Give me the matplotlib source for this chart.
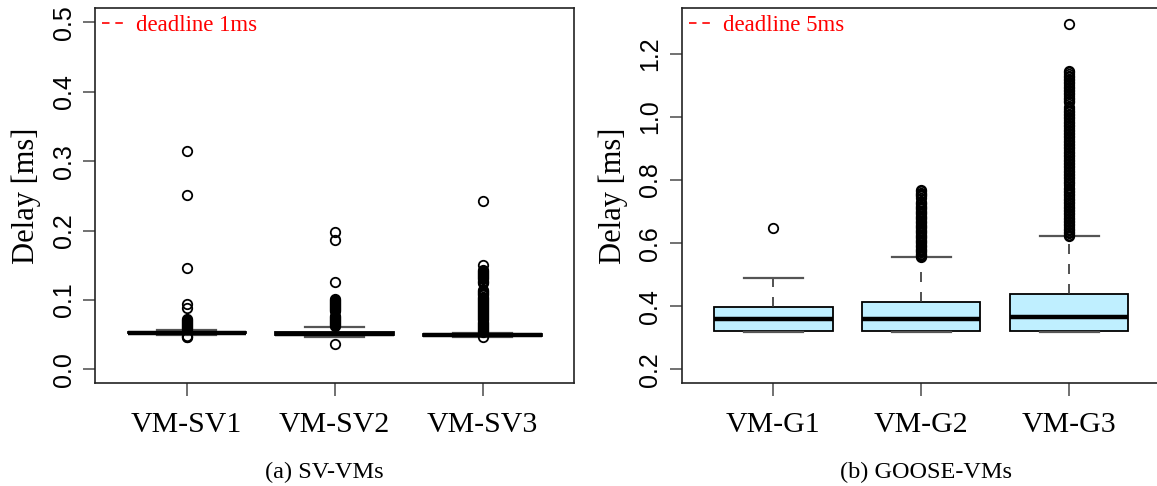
import matplotlib
matplotlib.use('Agg')
import matplotlib.pyplot as plt
from matplotlib.lines import Line2D

# SV-VMs (left panel), delay in ms
sv_labels = ['VM-SV1', 'VM-SV2', 'VM-SV3']
sv_q1 = [0.052, 0.049, 0.048]
sv_med = [0.053, 0.051, 0.049]
sv_q3 = [0.054, 0.054, 0.051]
sv_lo = [0.049, 0.046, 0.047]
sv_hi = [0.057, 0.061, 0.052]
sv1_out = [0.315, 0.251, 0.146, 0.094, 0.089, 0.073, 0.0715, 0.070, 0.0685, 0.067,
           0.0655, 0.064, 0.0625, 0.061, 0.0595, 0.058, 0.048, 0.047, 0.046]
sv2_out = [0.198, 0.186, 0.126, 0.102, 0.1005, 0.099, 0.0975, 0.096, 0.0945, 0.093,
           0.0915, 0.090, 0.0885, 0.087, 0.0855, 0.084, 0.077, 0.0755, 0.074, 0.0725,
           0.071, 0.0695, 0.068, 0.0665, 0.065, 0.0635, 0.062, 0.036]
sv3_out = [0.242, 0.151, 0.143, 0.1415, 0.140, 0.1385, 0.137, 0.1355, 0.134, 0.1325,
           0.131, 0.1295, 0.128, 0.1265, 0.125, 0.114, 0.1125, 0.111, 0.1095, 0.108,
           0.1065, 0.105, 0.1035, 0.102, 0.1005, 0.099, 0.0975, 0.096, 0.0945, 0.093,
           0.0915, 0.090, 0.0885, 0.087, 0.0855, 0.084, 0.0825, 0.081, 0.0795, 0.078,
           0.0765, 0.075, 0.0735, 0.072, 0.0705, 0.069, 0.0675, 0.066, 0.0645, 0.063,
           0.0615, 0.060, 0.0585, 0.057, 0.0555, 0.054, 0.046]

# GOOSE-VMs (right panel)
g_labels = ['VM-G1', 'VM-G2', 'VM-G3']
g_q1 = [0.321, 0.321, 0.321]
g_med = [0.359, 0.361, 0.365]
g_q3 = [0.398, 0.414, 0.440]
g_lo = [0.317, 0.317, 0.317]
g_hi = [0.490, 0.555, 0.622]
g1_out = [0.649]
g2_out = [0.768, 0.764, 0.760, 0.756, 0.752, 0.748, 0.744, 0.731, 0.727, 0.723,
          0.719, 0.715, 0.711, 0.707, 0.703, 0.699, 0.695, 0.691, 0.687, 0.683,
          0.679, 0.675, 0.671, 0.667, 0.663, 0.659, 0.655, 0.651, 0.647, 0.643,
          0.639, 0.635, 0.631, 0.627, 0.623, 0.619, 0.615, 0.611, 0.607, 0.603,
          0.599, 0.595, 0.591, 0.587, 0.583, 0.579, 0.575, 0.571, 0.567, 0.563,
          0.559, 0.556]
g3_out = [1.293, 1.146, 1.141, 1.136, 1.131, 1.126, 1.121, 1.116, 1.111, 1.106,
          1.101, 1.096, 1.091, 1.086, 1.081, 1.076, 1.071, 1.066, 1.061, 1.056,
          1.051, 1.046, 1.030, 1.025, 1.020, 1.015, 1.010, 1.005, 1.000, 0.995,
          0.990, 0.985, 0.980, 0.975, 0.970, 0.965, 0.960, 0.955, 0.950, 0.945,
          0.940, 0.935, 0.930, 0.925, 0.920, 0.915, 0.910, 0.905, 0.900, 0.895,
          0.890, 0.885, 0.880, 0.875, 0.870, 0.865, 0.860, 0.855, 0.850, 0.845,
          0.840, 0.835, 0.830, 0.825, 0.820, 0.815, 0.810, 0.805, 0.800, 0.795,
          0.790, 0.785, 0.776, 0.771, 0.766, 0.761, 0.756, 0.751, 0.746, 0.741,
          0.736, 0.731, 0.726, 0.721, 0.716, 0.711, 0.706, 0.701, 0.696, 0.691,
          0.686, 0.681, 0.676, 0.671, 0.666, 0.661, 0.656, 0.651, 0.646, 0.641,
          0.636, 0.631, 0.626, 0.623]

serif = 'Liberation Serif'
sans = 'Liberation Sans'


def stats(labels, q1, med, q3, lo, hi, fliers):
    return [dict(label=l, q1=a, med=m, q3=b, whislo=w0, whishi=w1, fliers=f)
            for l, a, m, b, w0, w1, f in zip(labels, q1, med, q3, lo, hi, fliers)]


def draw(ax, st, ylim, yticks, deadline):
    ax.bxp(st, positions=[1, 2, 3], widths=0.8, capwidths=0.4, patch_artist=True,
           boxprops=dict(facecolor='#BFEFFF', edgecolor='black', linewidth=1.3),
           medianprops=dict(color='black', linewidth=3.2),
           whiskerprops=dict(color='#333333', linewidth=1.2, linestyle=(0, (6, 6))),
           capprops=dict(color='#555555', linewidth=1.6),
           flierprops=dict(marker='o', markerfacecolor='none', markeredgecolor='black',
                           markersize=6.8, markeredgewidth=1.3))
    ax.set_xlim(0.38, 3.62)
    ax.set_ylim(*ylim)
    ax.set_xticks([1, 2, 3], [s['label'] for s in st], fontsize=21.5, family=serif)
    ax.set_yticks(yticks, [f'{t:.1f}' for t in yticks], rotation=90, va='center',
                  fontsize=18, family=sans)
    ax.tick_params(direction='out', length=9, width=1.3, color='#666666')
    ax.tick_params(axis='x', pad=12)
    ax.tick_params(axis='y', pad=5)
    for sp in ax.spines.values():
        sp.set_color('#222222')
        sp.set_linewidth(1.2)
    ax.set_ylabel('Delay [ms]', fontsize=22, family=serif)
    ax.yaxis.set_label_coords(-0.112, 0.5)
    h = Line2D([], [], color='red', linestyle=(0, (4.5, 3.5)), linewidth=1.2)
    ax.legend([h], [deadline], loc='upper left', frameon=False, handlelength=1.0,
              handletextpad=0.5, borderpad=0.0, borderaxespad=0.3, labelcolor='red',
              prop=dict(family=serif, size=16.5))


fig = plt.figure(figsize=(11.57, 4.86), dpi=100)
ax1 = fig.add_axes([0.0821, 0.2113, 0.4143, 0.7716])
ax2 = fig.add_axes([0.5892, 0.2113, 0.4142, 0.7716])

draw(ax1, stats(sv_labels, sv_q1, sv_med, sv_q3, sv_lo, sv_hi, [sv1_out, sv2_out, sv3_out]),
     (-0.02, 0.52), [0.0, 0.1, 0.2, 0.3, 0.4, 0.5], 'deadline 1ms')
draw(ax2, stats(g_labels, g_q1, g_med, g_q3, g_lo, g_hi, [g1_out, g2_out, g3_out]),
     (0.156, 1.344), [0.2, 0.4, 0.6, 0.8, 1.0, 1.2], 'deadline 5ms')

fig.text(324 / 1157, 0.028, '(a) SV-VMs', ha='center', va='center', fontsize=17.5, family=serif)
fig.text(926 / 1157, 0.028, '(b) GOOSE-VMs', ha='center', va='center', fontsize=17.5, family=serif)

fig.savefig('out.png', dpi=100)
